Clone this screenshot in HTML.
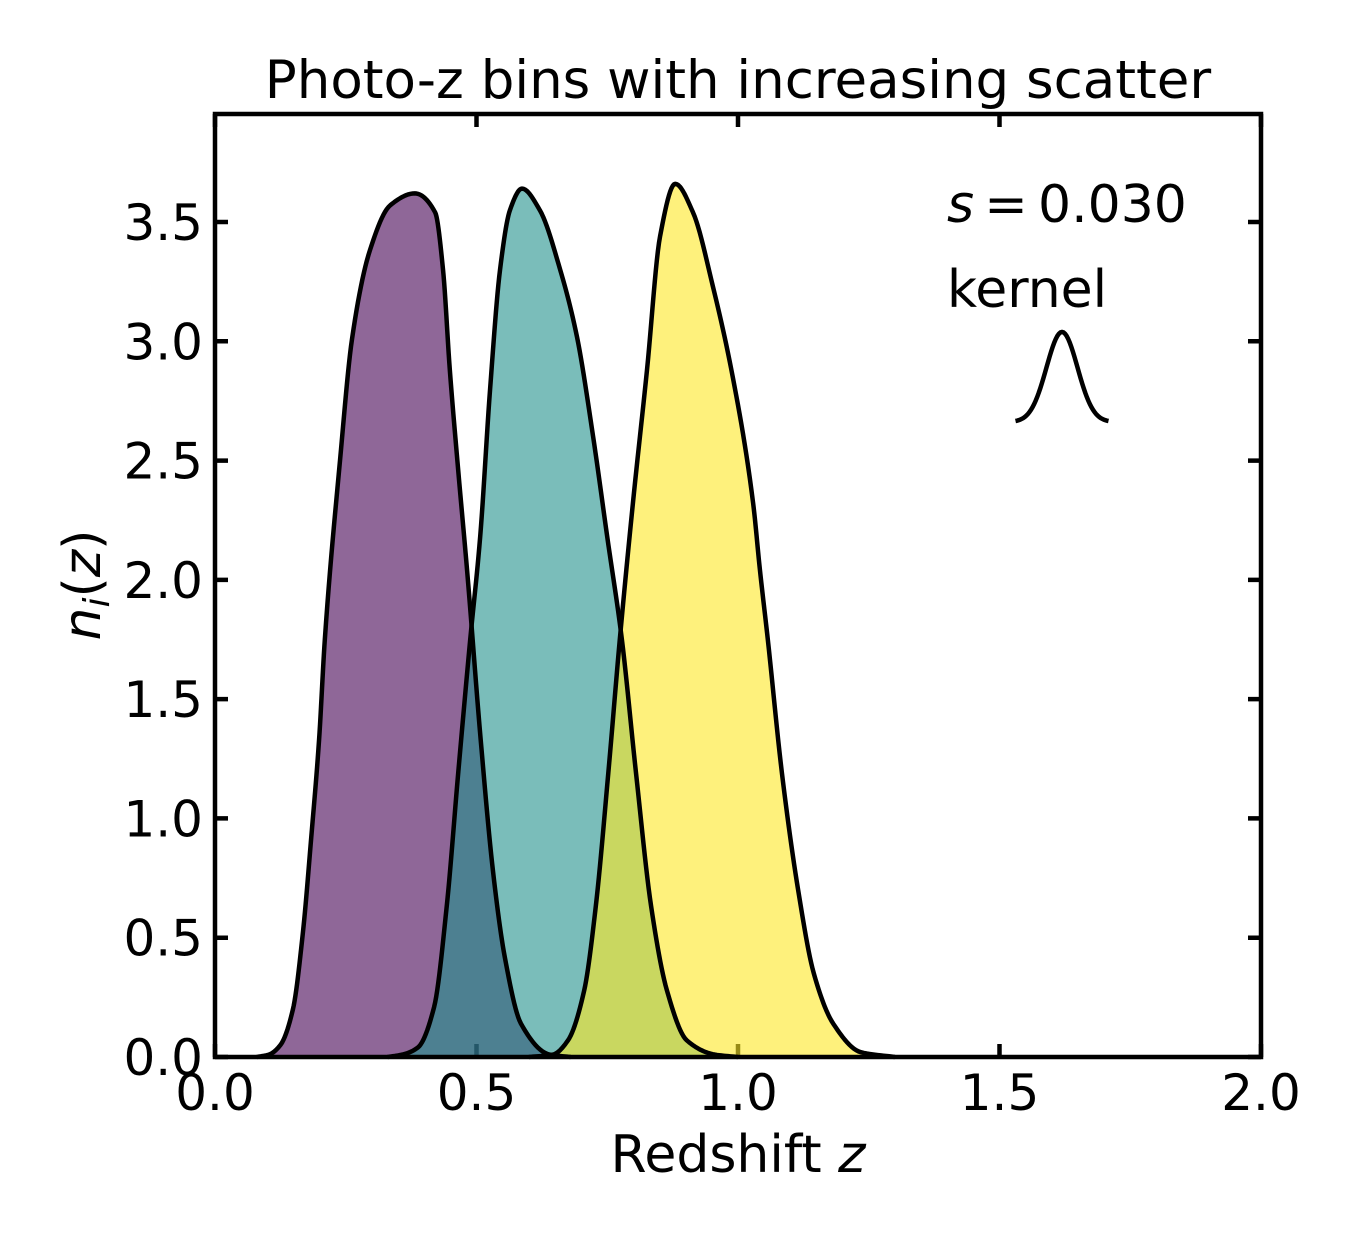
<!DOCTYPE html>
<html><head><meta charset="utf-8"><style>
html,body{margin:0;padding:0;background:#fff;}
svg text{font-family:"DejaVu Sans","Liberation Sans",sans-serif;fill:#000;}
</style></head><body>
<svg id="chart" width="1360" height="1240" viewBox="0 0 1360 1240" xmlns="http://www.w3.org/2000/svg">
<rect width="1360" height="1240" fill="#fff"/>
<g id="ticks"></g>
<g id="fills"></g>
<g id="lines"></g>
<g id="labels"></g>
<rect x="215" y="114" width="1046" height="943" fill="none" stroke="#000" stroke-width="4.5"/>
<text x="738" y="98" font-size="53" text-anchor="middle">Photo-z bins with increasing scatter</text>
<text x="738" y="1172" font-size="52" text-anchor="middle">Redshift <tspan font-style="italic">z</tspan></text>
<text transform="translate(100,585) rotate(-90)" font-size="52" text-anchor="middle"><tspan font-style="italic">n</tspan><tspan font-style="italic" font-size="36" dy="9">i</tspan><tspan dy="-9">(</tspan><tspan font-style="italic">z</tspan>)</text>
<text x="947" y="222" font-size="52"><tspan font-style="italic">s</tspan><tspan font-size="32"> </tspan>=<tspan font-size="32"> </tspan>0.030</text>
<text x="947" y="307" font-size="52">kernel</text>
<path id="kernel" fill="none" stroke="#000" stroke-width="4.5"/>
</svg>
<script>
const xTicks=[0,0.5,1.0,1.5,2.0];
const xTickLabels=["0.0","0.5","1.0","1.5","2.0"];
const yTicks=[0,0.5,1.0,1.5,2.0,2.5,3.0,3.5];
const yTickLabels=["0.0","0.5","1.0","1.5","2.0","2.5","3.0","3.5"];
const binColors=["#440154","#21918c","#fde725"];
const bin1Z=[0.08,0.103,0.125,0.149,0.168,0.184,0.199,0.210,0.239,0.262,0.296,0.335,0.382,0.421,0.436,0.449,0.465,0.482,0.508,0.532,0.554,0.585,0.640,0.68];
const bin1N=[0,0.01,0.05,0.20,0.52,0.92,1.33,1.75,2.50,3.01,3.38,3.57,3.62,3.54,3.30,2.88,2.46,2.04,1.33,0.77,0.42,0.14,0.01,0];
const bin2Z=[0.33,0.358,0.388,0.419,0.443,0.465,0.488,0.507,0.526,0.545,0.564,0.587,0.621,0.660,0.692,0.723,0.750,0.778,0.805,0.834,0.864,0.902,0.956,1.0];
const bin2N=[0,0.01,0.04,0.21,0.63,1.19,1.75,2.18,2.80,3.30,3.55,3.64,3.55,3.30,3.02,2.60,2.18,1.75,1.19,0.63,0.28,0.07,0.01,0];
const bin3Z=[0.60,0.646,0.675,0.706,0.728,0.752,0.774,0.799,0.826,0.851,0.880,0.914,0.952,0.990,1.029,1.042,1.057,1.084,1.115,1.145,1.182,1.235,1.30];
const bin3N=[0,0.01,0.07,0.28,0.63,1.19,1.75,2.32,2.88,3.44,3.66,3.54,3.23,2.85,2.32,2.04,1.75,1.19,0.70,0.35,0.14,0.02,0];
const X=z=>215+z*523, Y=v=>1057-v*238.57;
const NS="http://www.w3.org/2000/svg";
function mk(tag,parent,attrs){const e=document.createElementNS(NS,tag);for(const k in attrs)e.setAttribute(k,attrs[k]);document.getElementById(parent).appendChild(e);return e;}
xTicks.forEach((t,i)=>{
 const a=mk('path','ticks',{d:`M${X(t)},1057v-13M${X(t)},114v13`,stroke:'#000','stroke-width':4.5});
 
 
 const l=mk('text','labels',{x:X(t),y:1110,'font-size':50,'text-anchor':'middle'});
 l.textContent=xTickLabels[i];
 
 
});
yTicks.forEach((t,i)=>{
 const a=mk('path','ticks',{d:`M215,${Y(t)}h13M1261,${Y(t)}h-13`,stroke:'#000','stroke-width':4.5});
 
 
 const l=mk('text','labels',{x:203,y:Y(t)+18,'font-size':50,'text-anchor':'end'});
 l.textContent=yTickLabels[i];
 
 
});
function monotonePath(zs,ns){
 const n=zs.length,d=[],m=new Array(n);
 for(let i=0;i<n-1;i++)d.push((ns[i+1]-ns[i])/(zs[i+1]-zs[i]));
 m[0]=d[0];m[n-1]=d[n-2];
 for(let i=1;i<n-1;i++){
  if(d[i-1]*d[i]<=0)m[i]=0;
  else{const w1=2*(zs[i+1]-zs[i])+(zs[i]-zs[i-1]),w2=(zs[i+1]-zs[i])+2*(zs[i]-zs[i-1]);m[i]=(w1+w2)/(w1/d[i-1]+w2/d[i]);}
 }
 let p=`M${X(zs[0])},${Y(ns[0])}`;
 for(let i=0;i<n-1;i++){
  const h=zs[i+1]-zs[i];
  for(let k=1;k<=12;k++){
   const t=k/12,t2=t*t,t3=t2*t;
   const v=(2*t3-3*t2+1)*ns[i]+(t3-2*t2+t)*h*m[i]+(-2*t3+3*t2)*ns[i+1]+(t3-t2)*h*m[i+1];
   p+=`L${X(zs[i]+t*h).toFixed(2)},${Y(Math.max(0,v)).toFixed(2)}`;
  }
 }
 return p;
}
[[bin1Z,bin1N],[bin2Z,bin2N],[bin3Z,bin3N]].forEach((b,i)=>{
 const d=monotonePath(b[0],b[1]);
 const f=mk('path','fills',{d:d+'Z',fill:binColors[i],'fill-opacity':0.6});
 
 
 const s=mk('path','lines',{d:d,fill:'none',stroke:'#000','stroke-width':4.5,'stroke-linejoin':'round'});
 
 
});
let kd='';
for(let k=0;k<=60;k++){const dz=-3+6*k/60;const x=1062+dz*15.5;const y=422-90*Math.exp(-dz*dz/2);kd+=(k?'L':'M')+x+','+y;}
document.getElementById('kernel').setAttribute('d',kd);
</script>
</body></html>
